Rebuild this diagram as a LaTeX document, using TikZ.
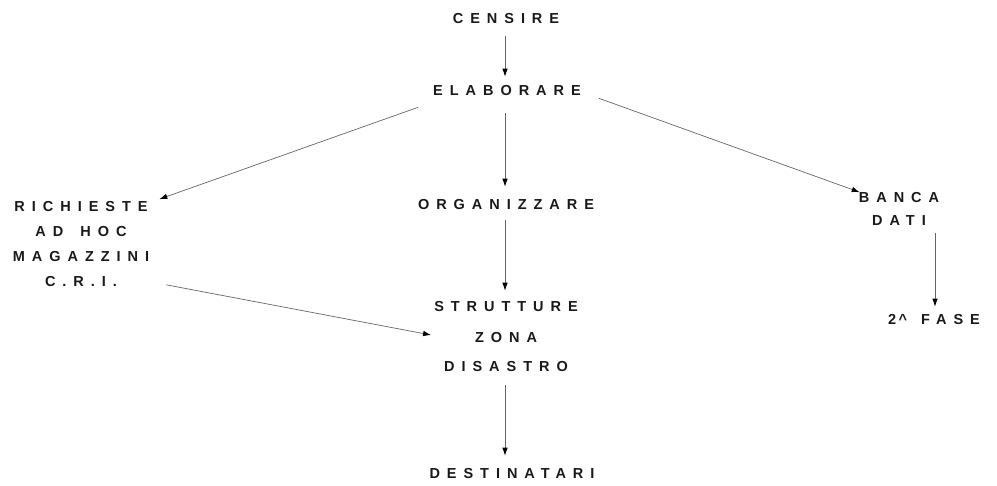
\documentclass[tikz,border=0pt]{standalone}
\usepackage{fontspec}
\setmainfont{Liberation Sans}[LetterSpace=48, BoldFont={Liberation Sans Bold}]
\usetikzlibrary{arrows.meta}
\begin{document}
\begin{tikzpicture}[x=1pt,y=-1pt,
  lbl/.style={font=\fontsize{14.5}{14}\selectfont\bfseries, inner sep=0pt, align=center, text=black!90},
  conn/.style={draw=black!60, line width=0.7pt, -{Latex[length=8pt,width=5.5pt,color=black]}}]
\useasboundingbox (0,0) rectangle (997,486);
\node[lbl] (cens) at (506,19) {CENSIRE};
\node[lbl] (elab) at (507,91) {ELABORARE};
\node[lbl] (org) at (506,205) {ORGANIZZARE};
\node[lbl] (strut) at (506,337) {STRUTTURE\\[17pt]ZONA\\[15pt]DISASTRO};
\node[lbl] (dest) at (512,474) {DESTINATARI};
\node[lbl] (rich) at (81,244) {RICHIESTE\\[11pt]AD\hspace{6pt} HOC\\[11pt]MAGAZZINI\\[11pt]C.R.I.};
\node[lbl] (banca) at (899,209) {BANCA\\[9pt]DATI};
\node[lbl] (fase) at (934,320) {2\,\textasciicircum\hspace{14pt}FASE};

\coordinate (v1) at (505,0);
\coordinate (v2) at (935,0);
\draw[conn, shorten <=12pt, shorten >=9pt] (cens.south -| v1) -- (elab.north -| v1);
\draw[conn, shorten <=17pt, shorten >=13pt] (elab.south -| v1) -- (org.north -| v1);
\draw[conn, shorten <=10pt, shorten >=11pt] (org.south -| v1) -- (strut.north -| v1);
\draw[conn, shorten <=13pt, shorten >=13pt] (strut.south -| v1) -- (dest.north -| v1);
\draw[conn, shorten <=7pt, shorten >=8pt] (banca.south -| v2) -- (fase.north -| v2);
\draw[conn] ([xshift=-15pt,yshift=-11pt]elab.south west) -- ([xshift=10pt,yshift=2pt]rich.north east);
\draw[conn] ([xshift=18pt,yshift=-2pt]elab.south east) -- ([xshift=1pt,yshift=0pt]banca.north west);
\draw[conn] ([xshift=17pt,yshift=2pt]rich.south east) -- ([xshift=-3pt,yshift=2pt]strut.west);
\end{tikzpicture}
\end{document}
